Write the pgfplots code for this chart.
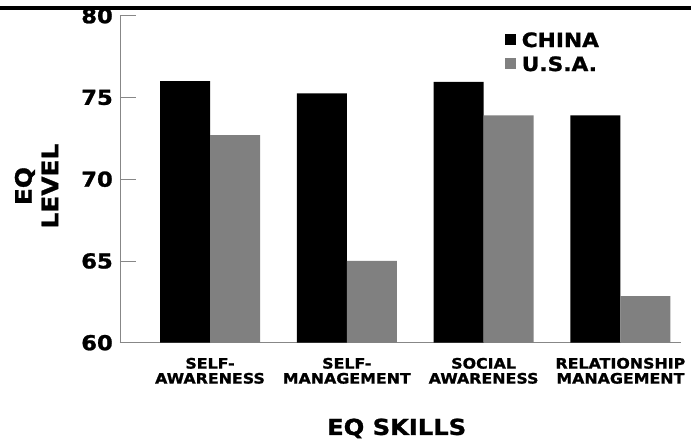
\documentclass[border=0pt]{standalone}
\usepackage{fontspec}
\setmainfont{DejaVu Sans}
\newfontfamily\hv{DejaVu Sans Bold}[FakeBold=1.2, FakeStretch=1.1]
\usepackage{pgfplots}
\pgfplotsset{compat=1.18}
\definecolor{usagray}{RGB}{128,128,128}
\definecolor{axgray}{RGB}{135,135,135}
\begin{document}
\begin{tikzpicture}
\useasboundingbox (-120pt,-97.3pt) rectangle (571pt,342.7pt);
\begin{axis}[
  at={(0pt,0pt)}, anchor=south west,
  scale only axis, width=561pt, height=327pt,
  xmin=-0.658, xmax=3.443, ymin=60, ymax=80,
  axis x line*=bottom, axis y line*=left,
  axis line style={axgray, line width=0.9pt, -},
  ybar=0pt, bar width=50pt,
  ytick={60,65,70,75,80},
  xtick={0,1,2,3},
  xticklabels={{SELF-\\AWARENESS},{SELF-\\MANAGEMENT},{SOCIAL\\AWARENESS},{RELATIONSHIP\\MANAGEMENT}},
  x tick style={draw=none},
  y tick style={axgray, line width=0.9pt},
  tick align=inside,
  major tick length=16pt,
  /pgf/number format/assume math mode=true,
  yticklabel style={font=\hv\fontsize{20.6}{21}\selectfont, inner sep=0pt, xshift=-7pt, anchor=east},
  xticklabel style={font=\hv\fontsize{14.4}{15}\selectfont, align=center, inner sep=0pt, anchor=north, yshift=-15pt},
  ylabel={EQ\\LEVEL},
  ylabel style={at={(axis description cs:-0.1488,0.479)}, anchor=center, align=center, font=\hv\fontsize{22.6}{26.5}\selectfont},
  xlabel={EQ SKILLS},
  xlabel style={at={(axis description cs:0.4932,-0.262)}, anchor=center, font=\hv\fontsize{22}{22}\selectfont},
  legend cell align=left,
  legend style={at={(axis description cs:0.686,0.9495)}, anchor=north west, draw=none, fill=none, inner sep=0pt,
    font=\hv\fontsize{19.75}{20}\selectfont, row sep=9.4pt, column sep=5.7pt,
    nodes={inner sep=0pt, text height=14.6pt, text depth=0pt}},
]
\addplot[fill=black, draw=none, legend image code/.code={\fill[black] (0pt,-5.5pt) rectangle (11pt,5.5pt);}]
  coordinates {(0,76.0) (1,75.25) (2,75.95) (3,73.9)};
\addlegendentry{CHINA}
\addplot[fill=usagray, draw=none, legend image code/.code={\fill[usagray] (0pt,-5.5pt) rectangle (11pt,5.5pt);}]
  coordinates {(0,72.7) (1,65.0) (2,73.9) (3,62.85)};
\addlegendentry{U.S.A.}
\end{axis}
\draw[line width=3.5pt] (-120pt,334.7pt) -- (571pt,334.7pt);
\end{tikzpicture}
\end{document}
